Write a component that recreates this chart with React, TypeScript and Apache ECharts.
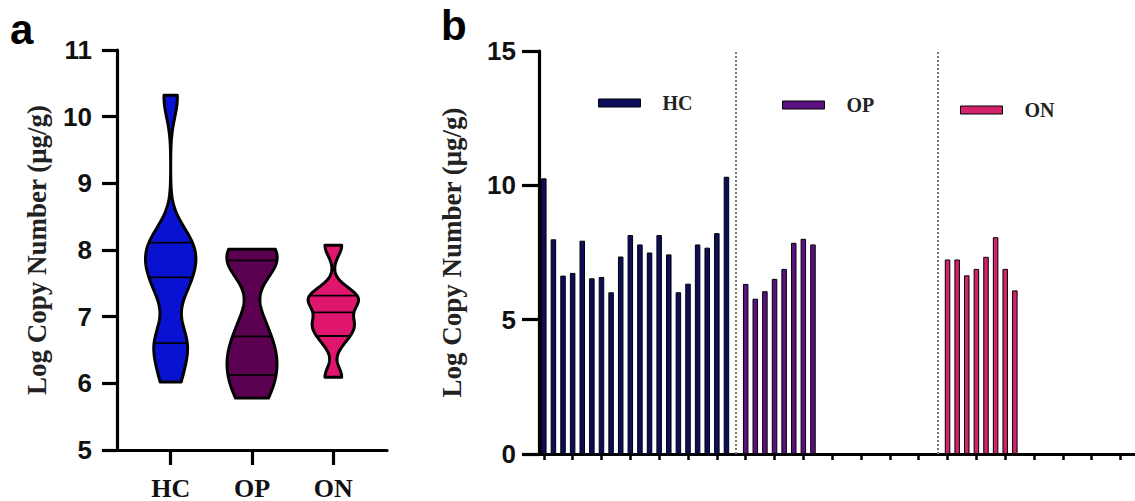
import React, { useEffect, useRef } from "react";
import * as echarts from "echarts";

// ---- data ----
const GROUPS = ["HC", "OP", "ON"];
const HC_VALUES = [10.26, 7.99, 6.64, 6.74, 7.94, 6.54, 6.59, 6.02, 7.35, 8.15, 7.8, 7.5, 8.15, 7.43, 6.02, 6.34, 7.8, 7.68, 8.22, 10.32];
const OP_VALUES = [6.33, 5.78, 6.06, 6.52, 6.89, 7.86, 8.01, 7.8];
const ON_VALUES = [7.24, 7.24, 6.65, 6.89, 7.34, 8.07, 6.89, 6.09];
const GROUP_VALUES = [HC_VALUES, OP_VALUES, ON_VALUES];
// slot layout of panel b (20 sample slots per group, separator slot between groups)
const GROUP_START_SLOT = [0, 21, 42];
const SEPARATOR_SLOTS = [20, 41];
const SLOT_COUNT = 62;
// kernel bandwidth of each violin
const BANDWIDTH = [0.3, 0.3, 0.16];
const A_Y_TICKS = [5, 11, 1];
const B_Y_TICKS = [0, 15, 5];

const VIOLIN_COLORS = ["#0a12d2", "#5c0152", "#e0156d"];
const BAR_COLORS = ["#0d0d5e", "#5c1180", "#d4226c"];

const SERIF = "'Liberation Serif', 'Times New Roman', serif";
const SANS = "'Liberation Sans', Arial, sans-serif";

function kde(values: number[], h: number, y: number) {
  let s = 0;
  for (const v of values) s += Math.exp(-0.5 * ((y - v) / h) ** 2);
  return s;
}
function quantile(sorted: number[], p: number) {
  const n = sorted.length;
  const pos = p * (n + 1);
  const lo = Math.floor(pos);
  const frac = pos - lo;
  if (lo < 1) return sorted[0];
  if (lo >= n) return sorted[n - 1];
  return sorted[lo - 1] + frac * (sorted[lo] - sorted[lo - 1]);
}

export default function App() {
  const ref = useRef<HTMLDivElement>(null);
  useEffect(() => {
    if (!ref.current) return;
    const chart = echarts.init(ref.current, null, { renderer: "svg" });

    const MAX_HALF = 0.31;
    const profiles = GROUP_VALUES.map((vals, g) => {
      const sorted = [...vals].sort((a, b) => a - b);
      const lo = sorted[0];
      const hi = sorted[sorted.length - 1];
      const N = 140;
      const ys: number[] = [];
      const ds: number[] = [];
      for (let i = 0; i <= N; i++) {
        const y = lo + ((hi - lo) * i) / N;
        ys.push(y);
        ds.push(kde(vals, BANDWIDTH[g], y));
      }
      const maxD = Math.max(...ds);
      const quart = [0.25, 0.5, 0.75].map((p) => quantile(sorted, p));
      return { ys, ds: ds.map((d) => d / maxD), maxD, quart, h: BANDWIDTH[g] };
    });

    const slots = Array.from({ length: SLOT_COUNT }, (_, i) => String(i));
    const barSeries = GROUP_VALUES.map((vals, g) => {
      const data: (number | null)[] = slots.map(() => null);
      vals.forEach((v, i) => (data[GROUP_START_SLOT[g] + i] = v));
      const s: any = {
        type: "bar",
        name: GROUPS[g],
        xAxisIndex: 1,
        yAxisIndex: 1,
        data,
        barWidth: 5.5,
        barGap: "-100%",
        itemStyle: { color: BAR_COLORS[g], borderColor: "#000", borderWidth: 1 },
        silent: true,
      };
      if (g === 0) {
        s.markLine = {
          silent: true,
          symbol: ["none", "none"],
          label: { show: false },
          lineStyle: { type: "dotted", color: "#777", width: 2 },
          data: SEPARATOR_SLOTS.map((x) => ({ xAxis: x })),
        };
      }
      return s;
    });

    const axisBlack = { lineStyle: { color: "#000", width: 3.2 } };

    const legendPos = [
      { left: 598, top: 93 },
      { left: 782, top: 95 },
      { left: 960, top: 100 },
    ];

    chart.setOption({
      animation: false,
      grid: [
        { left: 117, top: 50, width: 270, height: 404 },
        { left: 539, top: 51, width: 602, height: 403 },
      ],
      legend: GROUPS.map((name, g) => ({
        data: [name],
        left: legendPos[g].left,
        top: legendPos[g].top,
        padding: 0,
        itemWidth: 42,
        itemHeight: 8,
        icon: "rect",
        selectedMode: false,
        itemStyle: { borderColor: "#000", borderWidth: 1 },
        textStyle: {
          fontFamily: SERIF,
          fontWeight: "bold",
          fontSize: 20,
          color: "#222",
          padding: [0, 0, 0, 17],
        },
      })),
      xAxis: [
        {
          type: "value",
          gridIndex: 0,
          min: -0.66,
          max: 2.66,
          splitLine: { show: false },
          axisLine: { show: true, onZero: false, ...axisBlack },
          axisTick: { show: true, customValues: [0, 1, 2], length: 15, ...axisBlack },
          axisLabel: {
            customValues: [0, 1, 2],
            formatter: (v: number) => GROUPS[Math.round(v)],
            fontFamily: SERIF,
            fontWeight: "bold",
            fontSize: 26,
            color: "#111",
            margin: 25,
          },
        },
        {
          type: "category",
          gridIndex: 1,
          data: slots,
          boundaryGap: true,
          axisLine: { show: true, onZero: false, ...axisBlack },
          axisTick: { show: true, alignWithLabel: true, interval: 2, length: 6, lineStyle: { color: "#000", width: 2.5 } },
          axisLabel: { show: false },
        },
      ],
      yAxis: [
        {
          type: "value",
          gridIndex: 0,
          min: A_Y_TICKS[0],
          max: A_Y_TICKS[1],
          interval: A_Y_TICKS[2],
          splitLine: { show: false },
          axisLine: { show: true, onZero: false, ...axisBlack },
          axisTick: { show: true, length: 15, ...axisBlack },
          axisLabel: { fontFamily: SANS, fontWeight: "bold", fontSize: 26, color: "#111", margin: 25 },
          name: "Log Copy Number (μg/g)",
          nameLocation: "middle",
          nameGap: 67,
          nameTextStyle: { fontFamily: SERIF, fontWeight: "bold", fontSize: 27, color: "#222" },
        },
        {
          type: "value",
          gridIndex: 1,
          min: B_Y_TICKS[0],
          max: B_Y_TICKS[1],
          interval: B_Y_TICKS[2],
          splitLine: { show: false },
          axisLine: { show: true, onZero: false, ...axisBlack },
          axisTick: { show: true, length: 17, ...axisBlack },
          axisLabel: { fontFamily: SANS, fontWeight: "bold", fontSize: 26, color: "#111", margin: 23 },
          name: "Log Copy Number (μg/g)",
          nameLocation: "middle",
          nameGap: 74,
          nameTextStyle: { fontFamily: SERIF, fontWeight: "bold", fontSize: 27, color: "#222" },
        },
      ],
      graphic: [
        { type: "text", left: 10, top: 8, style: { text: "a", font: `bold 42px ${SANS}`, fill: "#000" } },
        { type: "text", left: 441, top: 4, style: { text: "b", font: `bold 42px ${SANS}`, fill: "#000" } },
      ],
      series: [
        {
          type: "custom",
          xAxisIndex: 0,
          yAxisIndex: 0,
          silent: true,
          data: GROUPS.map((_, g) => [g, profiles[g].quart[1]]),
          encode: { x: 0, y: 1 },
          renderItem: (params: any, api: any) => {
            const g = api.value(0);
            const prof = profiles[g];
            const right: number[][] = [];
            const left: number[][] = [];
            prof.ys.forEach((y, i) => {
              const hw = prof.ds[i] * MAX_HALF;
              right.push(api.coord([g + hw, y]));
              left.push(api.coord([g - hw, y]));
            });
            const points = right.concat(left.reverse());
            const children: any[] = [
              {
                type: "polygon",
                shape: { points },
                style: { fill: VIOLIN_COLORS[g], stroke: "#000", lineWidth: 3, lineJoin: "round" },
              },
            ];
            prof.quart.forEach((q) => {
              const hw = (kde(GROUP_VALUES[g], prof.h, q) / prof.maxD) * MAX_HALF;
              const p1 = api.coord([g - hw, q]);
              const p2 = api.coord([g + hw, q]);
              children.push({
                type: "line",
                shape: { x1: p1[0], y1: p1[1], x2: p2[0], y2: p2[1] },
                style: { stroke: "#000", lineWidth: 1.8 },
              });
            });
            return { type: "group", children };
          },
        },
        ...barSeries,
      ],
    });
    return () => chart.dispose();
  }, []);
  return (
    <div
      ref={ref}
      style={{ position: "absolute", left: 0, top: 0, width: 1135, height: 501, background: "#fff" }}
    />
  );
}
